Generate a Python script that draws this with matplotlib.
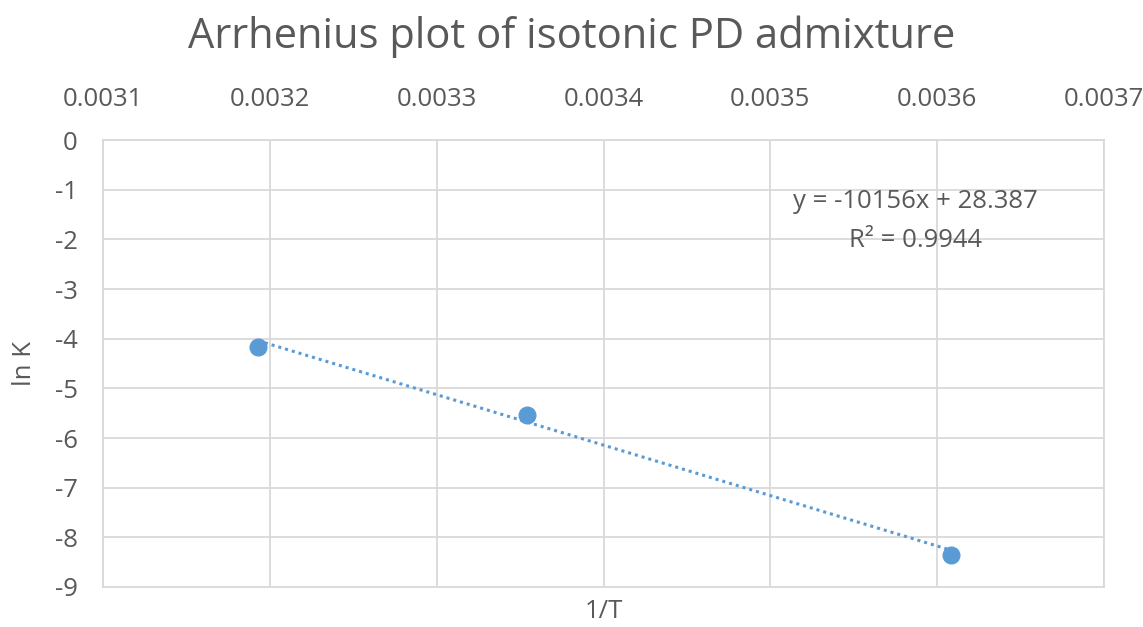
import numpy as np
import matplotlib.pyplot as plt

# data
inv_T = [0.003193, 0.003354, 0.003608]
ln_k = [-4.17, -5.53, -8.36]
slope = -10156
intercept = 28.387
x_ticks = [0.0031, 0.0032, 0.0033, 0.0034, 0.0035, 0.0036, 0.0037]
y_ticks = [0, -1, -2, -3, -4, -5, -6, -7, -8, -9]

plt.rcParams['font.family'] = ['Open Sans', 'DejaVu Sans']
grey = '#595959'
blue = '#5B9BD5'
grid_c = '#D9D9D9'

fig = plt.figure(figsize=(11.43, 6.27), dpi=100)
ax = fig.add_axes([0.0901, 0.0638, 0.8758, 0.7129])

ax.set_xlim(0.0031, 0.0037)
ax.set_ylim(-9, 0)
ax.set_xticks(x_ticks)
ax.set_xticklabels([f'{t:.4f}' for t in x_ticks])
ax.set_yticks(y_ticks)
ax.set_yticklabels([str(t) for t in y_ticks])
ax.xaxis.tick_top()
ax.xaxis.set_label_position('bottom')
ax.tick_params(axis='both', length=0, labelsize=18.5, colors=grey)
ax.tick_params(axis='x', pad=20)
ax.tick_params(axis='y', pad=18)

ax.grid(True, color=grid_c, linewidth=1.3)
ax.set_axisbelow(True)
for s in ax.spines.values():
    s.set_color(grid_c)
    s.set_linewidth(1.3)

# trendline
xs = np.array([min(inv_T), max(inv_T)])
ax.plot(xs, slope * xs + intercept, color=blue, linestyle=(0, (1, 1.3)),
        linewidth=2.2, zorder=2)
ax.plot(inv_T, ln_k, 'o', color=blue, markersize=12, zorder=3)

ax.text(0.003587, -1.24, f'y = {slope}x + {intercept}', fontsize=18.5,
        color=grey, ha='center', va='center')
ax.text(0.003587, -2.03, 'R² = 0.9944', fontsize=18.5,
        color=grey, ha='center', va='center')

ax.set_xlabel('1/T', fontsize=18.5, color=grey, labelpad=9)
ax.set_ylabel('ln K', fontsize=18.5, color=grey, labelpad=13)
fig.text(0.5, 0.942, 'Arrhenius plot of isotonic PD admixture',
         fontsize=30, color=grey, ha='center', va='center')

fig.savefig('out.png', dpi=100)
